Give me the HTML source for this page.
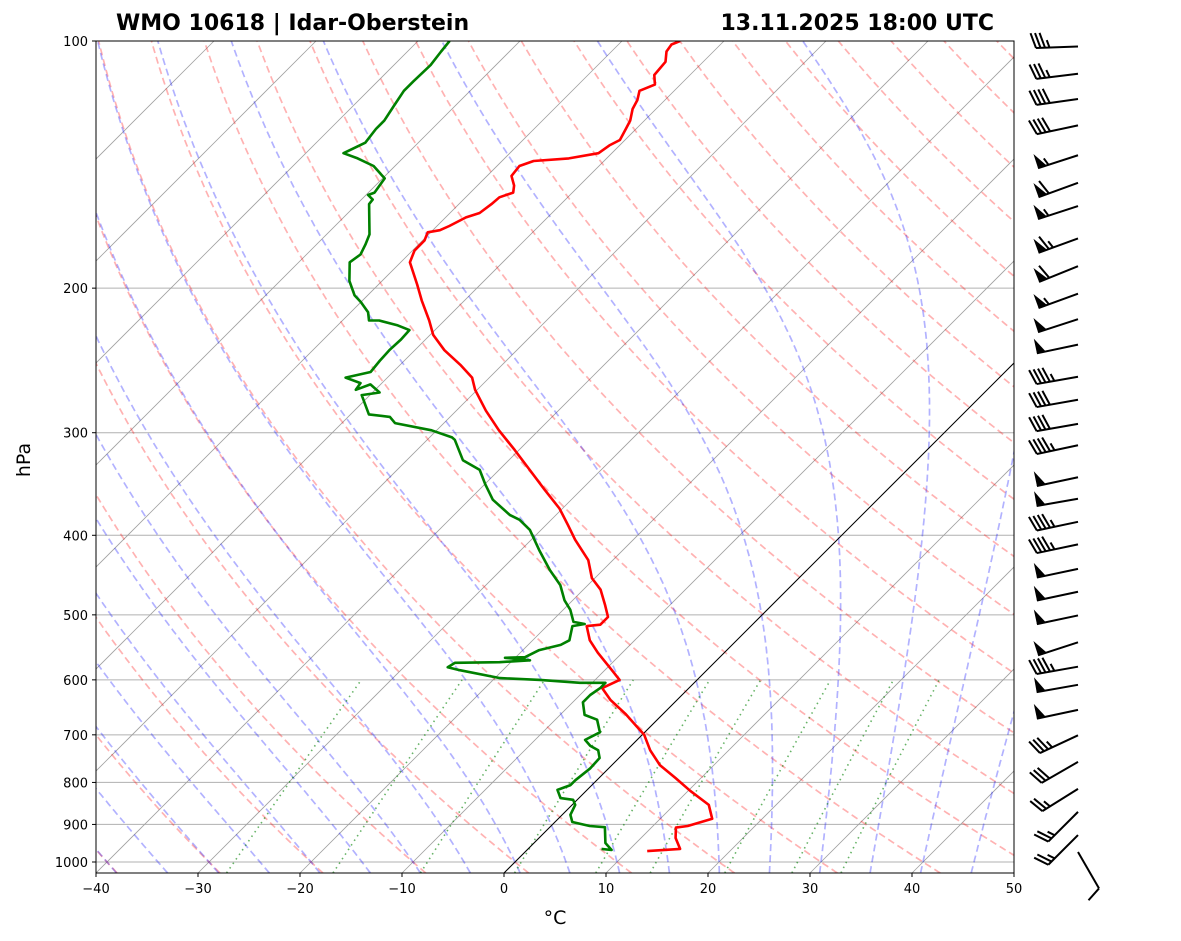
<!DOCTYPE html>
<html><head><meta charset="utf-8"><style>
html,body{margin:0;padding:0;background:#fff;}
svg{display:block;font-family:"DejaVu Sans","Liberation Sans",sans-serif;}
</style></head><body>
<svg id="chart" width="1181" height="941" viewBox="0 0 1181 941" xmlns="http://www.w3.org/2000/svg">
<defs><clipPath id="plotclip"><rect x="96" y="41" width="918" height="832"/></clipPath></defs>
<rect x="0" y="0" width="1181" height="941" fill="#fff"/>
<text x="116" y="30" font-size="22" font-weight="bold">WMO 10618 | Idar-Oberstein</text>
<text x="994" y="30" font-size="22" font-weight="bold" text-anchor="end">13.11.2025 18:00 UTC</text>
<g id="bg" clip-path="url(#plotclip)"></g>
<g id="data" clip-path="url(#plotclip)"></g>
<rect x="96" y="41" width="918" height="832" fill="none" stroke="#000" stroke-width="1"/>
<g id="axes"></g>
<g id="barbs"></g>
<text x="0" y="0" font-size="19" text-anchor="middle" transform="translate(30,460) rotate(-90)">hPa</text>
<text x="555" y="924" font-size="19" text-anchor="middle">°C</text>
</svg>
<script>
const tempP=[970,964,935,908,904,886,852,819,790,762,731,700,660,635,614,600,584,556,537,516,514,503,486,466,451,429,405,389,371,352,333,315,298,282,266,257,248,238,228,219,207,198,186,180,175,171,170,168,164,162,158,155,153,150,146,142,140,139,137,134,132,128,125,121,118,115,113,110,106,103,101,100];
const tempT=[11.9,14.9,13.4,12.4,13.4,15.1,13.4,10.2,7.5,4.7,2.3,0.2,-3.7,-6.5,-8.5,-7.6,-9.3,-12.4,-14.4,-16.1,-14.9,-14.9,-16.4,-18.3,-20.3,-22.4,-25.7,-27.8,-30.3,-33.6,-37.0,-40.4,-43.9,-47.1,-50.2,-51.7,-54.1,-57.1,-59.7,-61.5,-64.2,-66.2,-69.1,-69.8,-69.8,-70.3,-69.3,-68.8,-68.0,-67.1,-66.8,-66.7,-65.8,-66.4,-67.6,-67.8,-66.9,-63.7,-61.3,-61.0,-60.5,-61.0,-61.4,-62.3,-62.7,-63.4,-62.5,-63.5,-63.7,-64.6,-64.8,-64.3];
const dewP=[964,967,948,907,904,894,876,852,840,836,817,806,795,769,747,731,722,710,695,671,662,639,626,614,605,605,600,597,584,579,572,571,568,564,563,552,544,537,516,513,510,493,480,460,441,417,394,383,378,362,347,333,324,306,304,298,292,287,285,270,268,262,266,261,257,253,245,238,231,225,222,219,219,214,208,204,196,186,182,177,172,158,156,154,153,147,142,139,137,133,128,125,120,115,112,107,103,100];
const dewT=[7.2,8.3,7.0,5.4,3.8,1.7,0.8,0.3,-0.4,-1.8,-2.9,-2.1,-2.1,-1.8,-1.9,-2.8,-4.0,-5.1,-4.4,-5.9,-7.6,-9.0,-9.0,-8.7,-8.7,-11.2,-15.4,-19.5,-24.2,-25.7,-25.4,-21.1,-18.3,-21.0,-19.1,-18.4,-16.8,-16.4,-17.5,-16.5,-17.8,-19.3,-20.8,-22.7,-25.2,-28.2,-31.1,-33.1,-34.5,-37.7,-39.9,-41.9,-44.5,-47.3,-47.8,-50.5,-54.8,-55.9,-58.2,-60.8,-59.3,-61.0,-61.9,-62.1,-64.1,-62.2,-62.4,-62.5,-62.4,-62.5,-64.1,-66.4,-67.4,-68.3,-70.0,-71.3,-73.2,-75.0,-74.7,-75.2,-75.8,-78.8,-78.9,-79.8,-79.4,-79.8,-82.1,-84.4,-86.3,-85.2,-85.5,-85.5,-86.0,-86.5,-86.5,-86.4,-86.7,-86.9];
const barbP=[101,109,117,126,137,148,158,173,187,202,217,233,255,272,291,309,338,359,383,408,437,466,498,537,575,605,649,697,751,810,864,922,967];
const barbSpd=[35,35,40,40,55,60,55,65,60,55,50,50,45,40,40,45,50,50,45,45,50,50,50,50,45,50,50,35,30,25,25,25,10];
const barbDir=[268,263,262,258,252,250,252,250,248,250,252,258,260,260,260,258,258,260,258,258,258,258,258,252,260,260,258,245,240,238,225,225,150];
const xTicks=[-40,-30,-20,-10,0,10,20,30,40,50];
const yTicks=[100,200,300,400,500,600,700,800,900,1000];
const dryT0=[];for(let t=-40;t<=200;t+=10)dryT0.push(t);
const moistT0=[-40,-35,-30,-25,-20,-15,-10,-5,0,5,10,15,20,25,30,35,40,45,50];
const mixW=[0.0004,0.001,0.002,0.004,0.007,0.01,0.016,0.024,0.032];

const NS="http://www.w3.org/2000/svg";
const PB=100*Math.pow(10,832/821);
function yP(p){return 41+821*Math.log10(p/100);}
function xT(t,p){return 96+(t+40)*10.2+(873-yP(p));}
function mk(tag,attrs,parent){const e=document.createElementNS(NS,tag);for(const k in attrs)e.setAttribute(k,attrs[k]);parent.appendChild(e);return e;}
function pathD(ts,ps){let d='';for(let i=0;i<ts.length;i++){d+=(i?'L':'M')+xT(ts[i],ps[i]).toFixed(1)+' '+yP(ps[i]).toFixed(1);}return d;}
const bg=document.getElementById('bg'),dg=document.getElementById('data'),ax=document.getElementById('axes'),bb=document.getElementById('barbs');
const pGrid=[];for(let p=PB;p>=99;p-=5)pGrid.push(p);pGrid.push(100);

for(const p of yTicks){const l=mk('line',{x1:96,x2:1014,y1:yP(p),y2:yP(p),stroke:'#b0b0b0','stroke-width':1},bg);

}
for(let t=-110;t<=50;t+=10){const l=mk('line',{x1:xT(t,PB),y1:yP(PB),x2:xT(t,100),y2:yP(100),stroke:'#a0a0a0','stroke-width':0.8},bg);

}
for(const t0 of dryT0){const ts=pGrid.map(p=>(t0+273.15)*Math.pow(p/1000,0.2857)-273.15);
const e=mk('path',{d:pathD(ts,pGrid),fill:'none',stroke:'rgba(255,0,0,0.3)','stroke-width':1.7,'stroke-dasharray':'7,4'},bg);

}
function lapse(T,p){const Rd=287.04,Cp=1005.7,Lv=2.501e6,eps=0.622;const es=6.112*Math.exp(17.67*(T-273.15)/(T-29.65));const rs=eps*es/(p-es);
return (Rd*T+Lv*rs)/(p*(Cp+Lv*Lv*rs*eps/(Rd*T*T)));}
for(const t0 of moistT0){let T=t0+273.15,p=1000;const ps=[],ts=[];
let Td=T,pd=1000;const lo=[];while(pd<PB){const h=Math.min(2,PB-pd);const k1=lapse(Td,pd);const k2=lapse(Td+k1*h,pd+h);Td+=h*(k1+k2)/2;pd+=h;lo.push([pd,Td]);}
for(let i=lo.length-1;i>=0;i--){ps.push(lo[i][0]);ts.push(lo[i][1]-273.15);}
ps.push(1000);ts.push(t0);
while(p>100){const h=-2;const k1=lapse(T,p);const k2=lapse(T+k1*h,p+h);T+=h*(k1+k2)/2;p+=h;ps.push(p);ts.push(T-273.15);}
const e=mk('path',{d:pathD(ts,ps),fill:'none',stroke:'rgba(0,0,255,0.3)','stroke-width':1.7,'stroke-dasharray':'7,4'},bg);

}
for(const w of mixW){const ps=[],ts=[];for(let p=PB;p>=600;p-=10){ps.push(p);const e=p*w/(0.622+w);const l=Math.log(e/6.112);ts.push(243.5*l/(17.67-l));}
const p=600;ps.push(p);const e0=p*w/(0.622+w);const l0=Math.log(e0/6.112);ts.push(243.5*l0/(17.67-l0));
const e=mk('path',{d:pathD(ts,ps),fill:'none',stroke:'rgba(0,128,0,0.6)','stroke-width':1.6,'stroke-dasharray':'1.5,4'},bg);

}
const z=mk('line',{x1:xT(0,PB),y1:yP(PB),x2:xT(0,100),y2:yP(100),stroke:'#000','stroke-width':1},bg);


const tl=mk('path',{d:pathD(tempT,tempP),fill:'none',stroke:'#f00','stroke-width':2.6,'stroke-linejoin':'round'},dg);


const dl=mk('path',{d:pathD(dewT,dewP),fill:'none',stroke:'#008000','stroke-width':2.6,'stroke-linejoin':'round'},dg);


for(const t of xTicks){const x=96+(t+40)*10.2;mk('line',{x1:x,x2:x,y1:873,y2:877,stroke:'#000'},ax);
const tx=mk('text',{x:x,y:893,'font-size':13,'text-anchor':'middle'},ax);tx.textContent=(t<0?'\u2212'+(-t):String(t));

}
for(const p of yTicks){const y=yP(p);mk('line',{x1:92,x2:96,y1:y,y2:y,stroke:'#000'},ax);
const tx=mk('text',{x:88,y:y+5,'font-size':13,'text-anchor':'end'},ax);tx.textContent=String(p);

}
for(let i=0;i<barbP.length;i++){const x0=1078,y0=yP(barbP[i])+2;const d=barbDir[i]*Math.PI/180;const L=42;
const ux=Math.sin(d),uy=-Math.cos(d);const nx=-uy,ny=ux;const tx=x0+ux*L,ty=y0+uy*L;
const g=mk('g',{},bb);


mk('line',{x1:x0,y1:y0,x2:tx,y2:ty,stroke:'#000','stroke-width':2},g);
let s=Math.round(barbSpd[i]/5)*5;let pos=0;const H=15,sp=4.5;
while(s>=50){const ax1=tx-ux*pos,ay1=ty-uy*pos;const bx=ax1-ux*9,by=ay1-uy*9;
mk('polygon',{points:`${ax1},${ay1} ${ax1+nx*H},${ay1+ny*H} ${bx},${by}`,fill:'#000'},g);pos+=11;s-=50;}
while(s>=10){const ax1=tx-ux*pos,ay1=ty-uy*pos;mk('line',{x1:ax1,y1:ay1,x2:ax1+nx*H+ux*5,y2:ay1+ny*H+uy*5,stroke:'#000','stroke-width':2},g);pos+=sp;s-=10;}
if(s>=5){if(pos===0)pos=sp;const ax1=tx-ux*pos,ay1=ty-uy*pos;mk('line',{x1:ax1,y1:ay1,x2:ax1+nx*H/2+ux*2.5,y2:ay1+ny*H/2+uy*2.5,stroke:'#000','stroke-width':2},g);}
}
</script>
</body></html>
